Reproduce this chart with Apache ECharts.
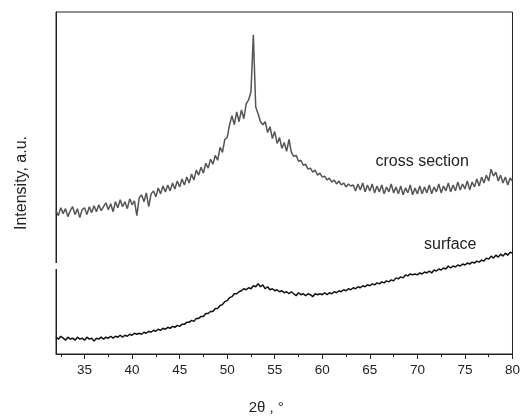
<!DOCTYPE html>
<html lang="en">
<head>
    <meta charset="UTF-8">
    <title>XRD cross section / surface</title>
    <style type="text/css">
    body,
    html {
        width: 100%;
        height: 100%;
        margin: 0;
        padding: 0;
        background: #fff;
    }

    #main {
        width: 523px;
        height: 420px;
    }
    </style>
</head>
<body>
    <div id="main"></div>
    <script src="https://cdn.jsdelivr.net/npm/echarts@6/dist/echarts.min.js"></script>
    <script type="text/javascript">

    // scan grid: 2theta from 32 to 80, step 0.25 deg
    var scanStart = 32;
    var scanStep = 0.25;

    // intensity, a.u., one row = 2 degrees
    var crossSection = [
        145, 140, 148, 142, 147, 139, 145, 149,
        141, 147, 138, 146, 148, 141, 149, 143,
        150, 144, 151, 145, 149, 153, 146, 152,
        144, 154, 148, 156, 149, 154, 147, 157,
        151, 155, 140, 158, 161, 154, 163, 149,
        162, 165, 159, 168, 162, 170, 164, 171,
        165, 173, 167, 175, 169, 177, 171, 179,
        173, 182, 176, 186, 181, 189, 183, 193,
        188, 197, 192, 201, 196, 209, 204, 217,
        219, 232, 241, 232, 245, 235, 247, 238,
        253, 257, 265, 323, 250, 243, 235, 232,
        235, 224, 230, 218, 225, 213, 219, 208,
        214, 205, 217, 204, 200, 201, 195, 196,
        191, 192, 187, 188, 184, 186, 181, 183,
        179, 180, 176, 178, 174, 176, 172, 175,
        171, 173, 169, 172, 170, 171, 165, 172,
        166, 173, 164, 171, 165, 172, 163, 170,
        164, 171, 162, 169, 164, 172, 163, 169,
        162, 170, 161, 168, 163, 171, 161, 168,
        162, 170, 162, 169, 163, 171, 162, 169,
        164, 172, 163, 170, 165, 173, 164, 171,
        165, 174, 166, 172, 167, 175, 166, 174,
        169, 177, 170, 179, 173, 181, 175, 187,
        180, 184, 175, 181, 173, 179, 171, 178,
        175
    ];

    var surface = [
        17, 15, 18, 16, 14, 17, 15, 16,
        14, 17, 15, 16, 14, 17, 15, 16,
        13, 16, 15, 17, 15, 17, 16, 18,
        16, 18, 17, 19, 17, 19, 18, 20,
        19, 21, 20, 21, 20, 22, 21, 23,
        22, 24, 23, 25, 24, 26, 25, 27,
        26, 28, 27, 29, 28, 30, 30, 32,
        32, 34, 33, 36, 36, 38, 38, 41,
        41, 43, 43, 46, 46, 49, 50, 53,
        54, 57, 58, 61, 61, 63, 64, 66,
        65, 67, 66, 69, 68, 71, 68, 70,
        66, 68, 65, 66, 64, 65, 63, 64,
        62, 63, 61, 63, 61, 59, 62, 60,
        61, 59, 61, 60, 58, 61, 60, 61,
        60, 62, 60, 62, 61, 63, 62, 64,
        63, 65, 64, 66, 65, 67, 66, 68,
        67, 69, 68, 70, 69, 71, 70, 72,
        71, 73, 72, 74, 73, 75, 74, 77,
        76, 78, 77, 80, 79, 81, 80, 81,
        80, 82, 81, 83, 82, 84, 82, 85,
        84, 86, 85, 87, 86, 89, 87, 89,
        88, 90, 89, 91, 90, 92, 91, 93,
        92, 94, 93, 95, 94, 97, 96, 99,
        97, 100, 98, 101, 99, 102, 100, 103,
        102
    ];

    var majorTicks = [35, 40, 45, 50, 55, 60, 65, 70, 75, 80];
    var minorTicks = [32.5, 37.5, 42.5, 47.5, 52.5, 57.5, 62.5, 67.5, 72.5, 77.5];

    // where the two curve labels sit, in data units
    var seriesLabels = [
        { text: 'cross section', x: 65.6, y: 195 },
        { text: 'surface', x: 70.7, y: 111 }
    ];

    function toPairs(arr) {
        var out = [];
        for (var i = 0; i < arr.length; i++) {
            out.push([scanStart + i * scanStep, arr[i]]);
        }
        return out;
    }

    var chart = echarts.init(document.getElementById('main'), null, { renderer: 'canvas' });

    var font = 'Liberation Sans, Arial, sans-serif';

    var option = {
        animation: false,
        backgroundColor: '#fff',
        grid: {
            left: 56,
            right: 10,
            top: 12,
            bottom: 62,
            containLabel: false,
            show: true,
            borderColor: '#222',
            borderWidth: 1
        },
        xAxis: [{
            type: 'value',
            min: 32,
            max: 80,
            position: 'bottom',
            name: '2θ , °',
            nameLocation: 'middle',
            nameGap: 46,
            nameTextStyle: {
                fontFamily: font,
                fontSize: 15,
                color: '#222',
                padding: [0, 36, 0, 0]
            },
            axisLine: { lineStyle: { color: '#222', width: 1 } },
            axisTick: { customValues: majorTicks, length: 5, lineStyle: { color: '#222' } },
            axisLabel: { customValues: majorTicks, fontFamily: font, fontSize: 13.5, color: '#222', margin: 9 },
            splitLine: { show: false }
        }, {
            type: 'value',
            min: 32,
            max: 80,
            position: 'bottom',
            axisLine: { show: false },
            axisTick: { customValues: minorTicks, length: 3, lineStyle: { color: '#222' } },
            axisLabel: { show: false },
            splitLine: { show: false }
        }],
        yAxis: {
            type: 'value',
            min: 0,
            max: 346,
            name: 'Intensity, a.u.',
            nameLocation: 'middle',
            nameGap: 26,
            nameTextStyle: { fontFamily: font, fontSize: 16, color: '#222' },
            axisLine: { show: true, lineStyle: { color: '#222', width: 1 } },
            axisTick: { show: false },
            axisLabel: { show: false },
            splitLine: { show: false }
        },
        series: [{
            name: 'cross section',
            type: 'line',
            data: toPairs(crossSection),
            symbol: 'none',
            lineStyle: { color: '#555', width: 1.5 }
        }, {
            name: 'surface',
            type: 'line',
            data: toPairs(surface),
            symbol: 'none',
            lineStyle: { color: '#111', width: 1.5 }
        }]
    };

    chart.setOption(option);

    // curve labels and the little break in the left axis
    var graphics = [];
    for (var i = 0; i < seriesLabels.length; i++) {
        var p = chart.convertToPixel({ gridIndex: 0 }, [seriesLabels[i].x, seriesLabels[i].y]);
        graphics.push({
            type: 'text',
            x: p[0],
            y: p[1],
            style: {
                text: seriesLabels[i].text,
                font: '16px ' + font,
                fill: '#222',
                verticalAlign: 'middle'
            }
        });
    }
    graphics.push({
        type: 'rect',
        shape: { x: 53, y: 263, width: 6, height: 6 },
        style: { fill: '#fff' },
        z: 100
    });
    chart.setOption({ graphic: graphics });
    </script>
</body>
</html>
